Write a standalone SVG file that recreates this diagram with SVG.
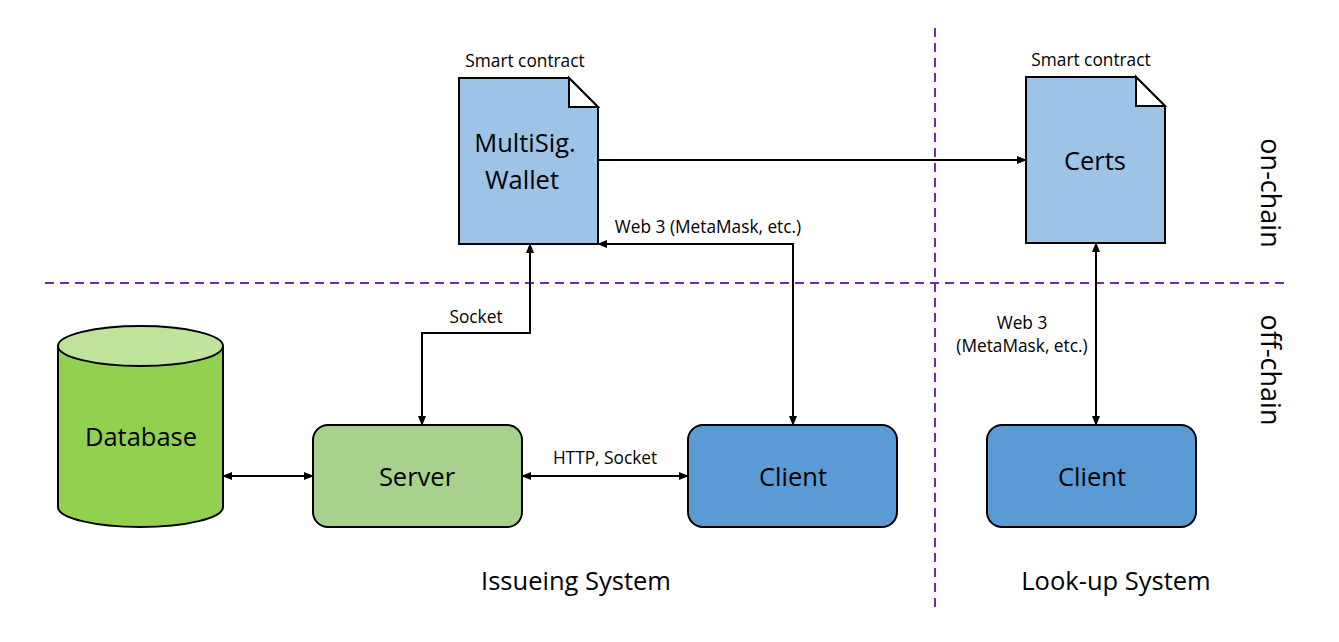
<svg xmlns="http://www.w3.org/2000/svg" width="1339" height="642" viewBox="0 0 1339 642">
<style>
text{font-family:"Open Sans","Noto Sans","DejaVu Sans",sans-serif;fill:#000}
.big{font-size:25.5px}
.sm{font-size:17.3px}
.lbl{font-size:25.5px}
.vt{font-size:27px}
.edge{fill:none;stroke:#000;stroke-width:2}
.div{fill:none;stroke:#7030A0;stroke-width:2;stroke-dasharray:9 6}
.ol{stroke:#000;stroke-width:2}
</style>
<defs>
<marker id="ah" markerWidth="10" markerHeight="8" refX="9" refY="4" orient="auto-start-reverse" markerUnits="userSpaceOnUse">
<path d="M0,0 L10,4 L0,8 z" fill="#000"/>
</marker>
</defs>
<rect width="1339" height="642" fill="#fff"/>
<g id="dividers">
<line class="div" x1="935" y1="28" x2="935" y2="610"/>
<line class="div" x1="45" y1="283" x2="1290" y2="283"/>
</g>
<g id="multisig">
<path class="ol" d="M459,78 H569 L598,107 V244 H459 Z" fill="#9DC3E6"/>
<path class="ol" d="M569,78 V107 H598 Z" fill="#fff"/>
<text class="sm" x="525" y="67" text-anchor="middle">Smart contract</text>
<text class="big" x="525" y="152" text-anchor="middle">MultiSig.</text>
<text class="big" x="522" y="189" text-anchor="middle">Wallet</text>
</g>
<g id="certs">
<path class="ol" d="M1026,77 H1136 L1165,106 V243 H1026 Z" fill="#9DC3E6"/>
<path class="ol" d="M1136,77 V106 H1165 Z" fill="#fff"/>
<text class="sm" x="1091" y="66" text-anchor="middle">Smart contract</text>
<text class="big" x="1095" y="170" text-anchor="middle">Certs</text>
</g>
<g id="database">
<path class="ol" d="M58,346 V507 A82.5,20 0 0 0 223,507 V346" fill="#92D050"/>
<ellipse class="ol" cx="140.5" cy="346" rx="82.5" ry="20" fill="#C0E39C"/>
<text class="big" x="141" y="446" text-anchor="middle">Database</text>
</g>
<g id="server">
<rect class="ol" x="313" y="425" width="209" height="102" rx="15" fill="#A9D18E"/>
<text class="big" x="417" y="486" text-anchor="middle">Server</text>
</g>
<g id="client1">
<rect class="ol" x="688" y="425" width="209" height="102" rx="15" fill="#5B9BD5"/>
<text class="big" x="793" y="486" text-anchor="middle">Client</text>
</g>
<g id="client2">
<rect class="ol" x="987" y="425" width="209" height="102" rx="15" fill="#5B9BD5"/>
<text class="big" x="1092" y="486" text-anchor="middle">Client</text>
</g>
<g id="connectors">
<line class="edge" x1="598" y1="160" x2="1026" y2="160" marker-end="url(#ah)"/>
<path class="edge" d="M422,425 V333 H530 V244" marker-start="url(#ah)" marker-end="url(#ah)"/>
<path class="edge" d="M793,425 V244 H598" marker-start="url(#ah)" marker-end="url(#ah)"/>
<line class="edge" x1="1096" y1="243" x2="1096" y2="425" marker-start="url(#ah)" marker-end="url(#ah)"/>
<line class="edge" x1="223" y1="476" x2="313" y2="476" marker-start="url(#ah)" marker-end="url(#ah)"/>
<line class="edge" x1="522" y1="476" x2="688" y2="476" marker-start="url(#ah)" marker-end="url(#ah)"/>
</g>
<g id="labels">
<text class="sm" x="476" y="323" text-anchor="middle">Socket</text>
<text class="sm" x="708" y="233" text-anchor="middle">Web 3 (MetaMask, etc.)</text>
<text class="sm" x="605" y="464" text-anchor="middle">HTTP, Socket</text>
<text class="sm" x="1022" y="329" text-anchor="middle">Web 3</text>
<text class="sm" x="1022" y="352" text-anchor="middle">(MetaMask, etc.)</text>
<text class="lbl" x="576" y="590" text-anchor="middle">Issueing System</text>
<text class="lbl" x="1116" y="590" text-anchor="middle">Look-up System</text>
<text class="vt" transform="translate(1261,193) rotate(90)" text-anchor="middle">on-chain</text>
<text class="vt" transform="translate(1261,370) rotate(90)" text-anchor="middle">off-chain</text>
</g>
</svg>
